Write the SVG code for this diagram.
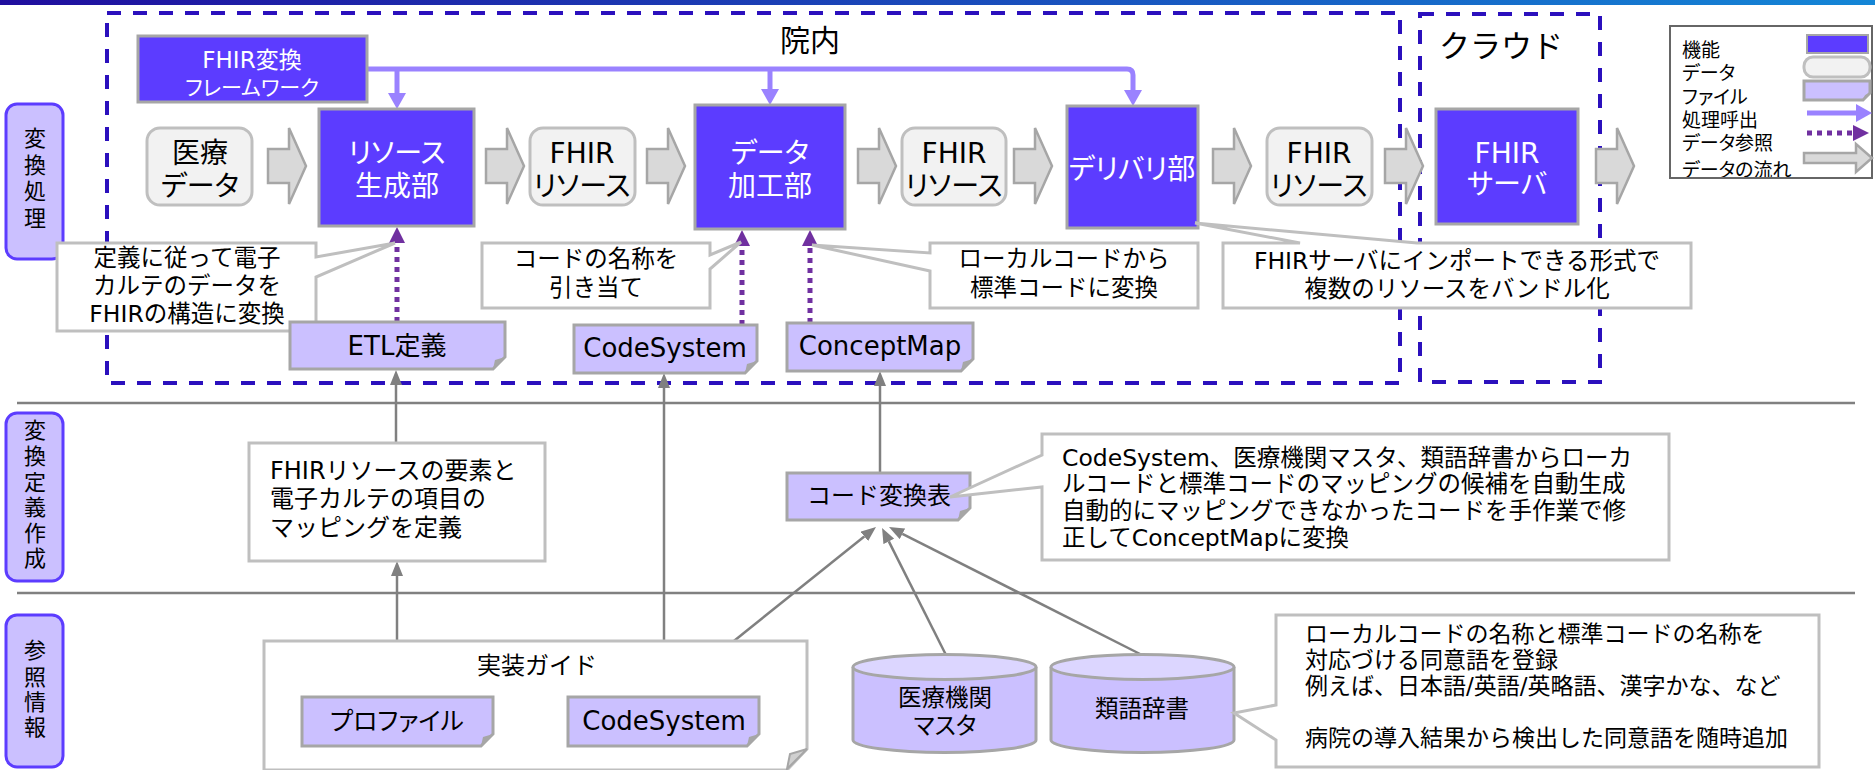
<svg xmlns="http://www.w3.org/2000/svg" width="1875" height="770" viewBox="0 0 1875 770">
<style>
.t{font-family:"DejaVu Sans","Noto Sans CJK JP",sans-serif;fill:#000}
.w{fill:#fff}
.p{font-feature-settings:"palt" 1}
.fn{fill:#5c3cff;stroke:#a6a6a6;stroke-width:3}
.dt{fill:#f2f2f2;stroke:#bfbfbf;stroke-width:3}
.fl{fill:#cbc0ff;stroke:#a6a6a6;stroke-width:3}
.fold{fill:#a6a6a6}
.co{fill:#fff;stroke:#bfbfbf;stroke-width:3}
.lbl{fill:#cbc0ff;stroke:#5c3cff;stroke-width:3}
.blk{fill:#d9d9d9;stroke:#a6a6a6;stroke-width:2.5}
.dash{fill:none;stroke:#2b10bd;stroke-width:4;stroke-dasharray:14 12}
.hl{stroke:#808080;stroke-width:2.5;fill:none}
.g{stroke:#808080;stroke-width:2.5;fill:none;marker-end:url(#mg)}
.call{stroke:#9a82ff;stroke-width:5;fill:none}
.ref{stroke:#7030a0;stroke-width:5;stroke-dasharray:5 5;fill:none;marker-end:url(#md)}
.cyl{fill:#cbc0ff;stroke:#a6a6a6;stroke-width:3}
.cyltop{fill:#dcd6ff;stroke:#a6a6a6;stroke-width:3}
</style>
<defs>
<linearGradient id="topbar" x1="0" x2="1" y1="0" y2="0"><stop offset="0" stop-color="#200e9e"/><stop offset="1" stop-color="#1486d6"/></linearGradient>
<marker id="mg" markerUnits="userSpaceOnUse" markerWidth="15" markerHeight="12" refX="0" refY="6" orient="auto"><path d="M0,0 L15,6 L0,12 Z" fill="#808080"/></marker>
<marker id="mc" markerUnits="userSpaceOnUse" markerWidth="16" markerHeight="18" refX="0" refY="9" orient="auto"><path d="M0,0 L16,9 L0,18 Z" fill="#9a82ff"/></marker>
<marker id="md" markerUnits="userSpaceOnUse" markerWidth="16" markerHeight="16" refX="0" refY="8" orient="auto"><path d="M0,0 L16,8 L0,16 Z" fill="#7030a0"/></marker>
<path id="ba" class="blk" d="M0,-17 H21 V-38 L38,0 L21,38 V17 H0 Z"/>
<clipPath id="lgclip"><rect x="1670" y="26" width="202" height="151"/></clipPath>
</defs>

<rect x="0" y="0" width="1875" height="5" fill="url(#topbar)"/>

<!-- lanes -->
<g id="lane-lines">
<line class="hl" x1="17" y1="403" x2="1855" y2="403"/>
<line class="hl" x1="17" y1="593" x2="1855" y2="593"/>
</g>
<g id="lane-henkan-shori">
<rect class="lbl" x="6" y="104" width="57" height="155" rx="11"/>
<text class="t" font-size="22" text-anchor="middle"><tspan x="35" y="146">変</tspan><tspan x="35" y="173">換</tspan><tspan x="35" y="199">処</tspan><tspan x="35" y="226">理</tspan></text>
</g>
<g id="lane-henkan-teigi">
<rect class="lbl" x="6" y="413" width="57" height="168" rx="11"/>
<text class="t" font-size="22" text-anchor="middle"><tspan x="35" y="438">変</tspan><tspan x="35" y="464">換</tspan><tspan x="35" y="490">定</tspan><tspan x="35" y="515">義</tspan><tspan x="35" y="541">作</tspan><tspan x="35" y="566">成</tspan></text>
</g>
<g id="lane-sansho">
<rect class="lbl" x="6" y="615" width="57" height="152" rx="11"/>
<text class="t" font-size="22" text-anchor="middle"><tspan x="35" y="658">参</tspan><tspan x="35" y="685">照</tspan><tspan x="35" y="710">情</tspan><tspan x="35" y="735">報</tspan></text>
</g>

<!-- zones -->
<g id="zone-innai">
<rect class="dash" x="107" y="13" width="1293" height="370"/>
<text class="t" font-size="30" text-anchor="middle" x="810" y="51">院内</text>
</g>
<g id="zone-cloud">
<rect class="dash" x="1420" y="14" width="180" height="368"/>
<text class="t" font-size="31" text-anchor="middle" x="1501" y="57">クラウド</text>
</g>

<!-- connectors -->
<g id="connectors">
<use href="#ba" x="268" y="166"/>
<use href="#ba" x="486" y="166"/>
<use href="#ba" x="647" y="166"/>
<use href="#ba" x="858" y="166"/>
<use href="#ba" x="1014" y="166"/>
<use href="#ba" x="1213" y="166"/>
<use href="#ba" x="1385" y="166"/>
<use href="#ba" x="1596" y="166"/>
<path class="call" d="M367,69 H1127 Q1133,69 1133,75 V90" marker-end="url(#mc)"/>
<path class="call" d="M397,69 V93" marker-end="url(#mc)"/>
<path class="call" d="M770,69 V89" marker-end="url(#mc)"/>
<path class="ref" d="M397,322 V243"/>
<path class="ref" d="M742,325 V246"/>
<path class="ref" d="M810,323 V246"/>
<path class="g" d="M396,443 V385"/>
<path class="g" d="M397,697 V576"/>
<path class="g" d="M664,697 V388"/>
<path class="g" d="M880,473 V386"/>
<path class="g" d="M664,697 L864.3,536.4"/>
<path class="g" d="M946,655 L888.8,541.4"/>
<path class="g" d="M1142,655 L902.4,533.8"/>
</g>

<!-- nodes -->
<g id="fhir-framework">
<rect class="fn" x="138" y="36" width="229" height="66"/>
<text class="t w p" font-size="23" text-anchor="middle" x="252" y="68">FHIR変換</text>
<text class="t w p" font-size="21" text-anchor="middle" x="252" y="95">フレームワーク</text>
</g>
<g id="iryo-data">
<rect class="dt" x="147" y="128" width="105" height="77" rx="13"/>
<text class="t p" font-size="28" text-anchor="middle"><tspan x="200" y="163">医療</tspan><tspan x="200" y="196">データ</tspan></text>
</g>
<g id="resource-gen">
<rect class="fn" x="319" y="109" width="155" height="117"/>
<text class="t w p" font-size="28" text-anchor="middle"><tspan x="397" y="163">リソース</tspan><tspan x="397" y="196">生成部</tspan></text>
</g>
<g id="fhir-res-1">
<rect class="dt" x="530" y="128" width="105" height="77" rx="13"/>
<text class="t p" font-size="28" text-anchor="middle"><tspan x="582" y="163">FHIR</tspan><tspan x="582" y="196">リソース</tspan></text>
</g>
<g id="data-kako">
<rect class="fn" x="695" y="105" width="150" height="124"/>
<text class="t w p" font-size="28" text-anchor="middle"><tspan x="770" y="163">データ</tspan><tspan x="770" y="196">加工部</tspan></text>
</g>
<g id="fhir-res-2">
<rect class="dt" x="902" y="128" width="104" height="77" rx="13"/>
<text class="t p" font-size="28" text-anchor="middle"><tspan x="954" y="163">FHIR</tspan><tspan x="954" y="196">リソース</tspan></text>
</g>
<g id="delivery">
<rect class="fn" x="1067" y="106" width="131" height="122"/>
<text class="t w p" font-size="28" text-anchor="middle" x="1132" y="179">デリバリ部</text>
</g>
<g id="fhir-res-3">
<rect class="dt" x="1267" y="128" width="105" height="77" rx="13"/>
<text class="t p" font-size="28" text-anchor="middle"><tspan x="1319" y="163">FHIR</tspan><tspan x="1319" y="196">リソース</tspan></text>
</g>
<g id="fhir-server">
<rect class="fn" x="1436" y="109" width="142" height="115"/>
<text class="t w p" font-size="28" text-anchor="middle"><tspan x="1507" y="163">FHIR</tspan><tspan x="1507" y="194">サーバ</tspan></text>
</g>

<g id="note-etl">
<path class="co" d="M57,243 H316 V257 L395,243 L316,277 V331 H57 Z"/>
<text class="t" font-size="23.5" text-anchor="middle"><tspan x="187" y="266">定義に従って電子</tspan><tspan x="187" y="294">カルテのデータを</tspan><tspan x="187" y="322">FHIRの構造に変換</tspan></text>
</g>
<g id="note-code-name">
<path class="co" d="M482,243 H710 V255 L741,242 L710,269 V308 H482 Z"/>
<text class="t" font-size="23.5" text-anchor="middle"><tspan x="596" y="267">コードの名称を</tspan><tspan x="596" y="296">引き当て</tspan></text>
</g>
<g id="note-local-code">
<path class="co" d="M930,243 H1198 V308 H930 V271 L812,245 L930,253 Z"/>
<text class="t" font-size="23.5" text-anchor="middle"><tspan x="1064" y="267">ローカルコードから</tspan><tspan x="1064" y="296">標準コードに変換</tspan></text>
</g>
<g id="note-bundle">
<path class="co" d="M1223,243 H1300 L1195,223 L1417,243 H1691 V308 H1223 Z"/>
<text class="t" font-size="23.5" text-anchor="middle"><tspan x="1457" y="269">FHIRサーバにインポートできる形式で</tspan><tspan x="1457" y="297">複数のリソースをバンドル化</tspan></text>
</g>

<g id="file-etl">
<path class="fl" d="M290,322 H505 V357 L493,369 H290 Z"/>
<path class="fold" d="M505,357 L495,360 L493,369 Z"/>
<text class="t" font-size="26" text-anchor="middle" x="397" y="355">ETL定義</text>
</g>
<g id="file-codesystem-top">
<path class="fl" d="M574,325 H757 V361 L745,373 H574 Z"/>
<path class="fold" d="M757,361 L747,364 L745,373 Z"/>
<text class="t" font-size="26" text-anchor="middle" x="665" y="357">CodeSystem</text>
</g>
<g id="file-conceptmap">
<path class="fl" d="M787,323 H973 V359 L961,371 H787 Z"/>
<path class="fold" d="M973,359 L963,362 L961,371 Z"/>
<text class="t" font-size="26" text-anchor="middle" x="880" y="355">ConceptMap</text>
</g>

<g id="note-mapping">
<rect class="co" x="249" y="443" width="296" height="118"/>
<text class="t" font-size="24"><tspan x="270" y="479">FHIRリソースの要素と</tspan><tspan x="270" y="507">電子カルテの項目の</tspan><tspan x="270" y="536">マッピングを定義</tspan></text>
</g>
<g id="file-code-table">
<path class="fl" d="M787,473 H970 V508 L958,520 H787 Z"/>
<path class="fold" d="M970,508 L960,511 L958,520 Z"/>
<text class="t" font-size="24" text-anchor="middle" x="879" y="504">コード変換表</text>
</g>
<g id="note-code-table">
<path class="co" d="M1042,434 H1669 V560 H1042 V487 L950,497 L1042,455 Z"/>
<text class="t" font-size="23.5"><tspan x="1062" y="466">CodeSystem、医療機関マスタ、類語辞書からローカ</tspan><tspan x="1062" y="492">ルコードと標準コードのマッピングの候補を自動生成</tspan><tspan x="1062" y="519">自動的にマッピングできなかったコードを手作業で修</tspan><tspan x="1062" y="546">正してConceptMapに変換</tspan></text>
</g>

<g id="impl-guide">
<path class="co" d="M264,641 H807 V749 L787,770 H264 Z"/>
<path d="M807,749 L790,754 L787,769 Z" fill="#d0d0d0" stroke="#a6a6a6" stroke-width="2"/>
<text class="t" font-size="24" text-anchor="middle" x="537" y="674">実装ガイド</text>
</g>
<g id="file-profile">
<path class="fl" d="M302,697 H493 V734 L481,746 H302 Z"/>
<path class="fold" d="M493,734 L483,737 L481,746 Z"/>
<text class="t p" font-size="25" text-anchor="middle" x="397" y="730">プロファイル</text>
</g>
<g id="file-codesystem-bottom">
<path class="fl" d="M568,697 H759 V734 L747,746 H568 Z"/>
<path class="fold" d="M759,734 L749,737 L747,746 Z"/>
<text class="t" font-size="26" text-anchor="middle" x="664" y="730">CodeSystem</text>
</g>
<g id="db-master">
<path class="cyl" d="M853,667 V740 A91.5,12.5 0 0 0 1036,740 V667"/>
<ellipse class="cyltop" cx="944.5" cy="667" rx="91.5" ry="12.5"/>
<text class="t" font-size="23.5" text-anchor="middle"><tspan x="945" y="706">医療機関</tspan><tspan class="p" x="945" y="734">マスタ</tspan></text>
</g>
<g id="db-synonym">
<path class="cyl" d="M1051,667 V740 A91.5,12.5 0 0 0 1234,740 V667"/>
<ellipse class="cyltop" cx="1142.5" cy="667" rx="91.5" ry="12.5"/>
<text class="t" font-size="23.5" text-anchor="middle" x="1142" y="717">類語辞書</text>
</g>
<g id="note-synonym">
<path class="co" d="M1276,615 H1819 V767 H1276 V740 L1234,713 L1276,705 Z"/>
<text class="t" font-size="23"><tspan x="1305" y="642">ローカルコードの名称と標準コードの名称を</tspan><tspan x="1305" y="668">対応づける同意語を登録</tspan><tspan x="1305" y="694">例えば、日本語/英語/英略語、漢字かな、など</tspan><tspan x="1305" y="746">病院の導入結果から検出した同意語を随時追加</tspan></text>
</g>

<g id="legend">
<rect x="1670" y="26" width="202" height="152" fill="#fff" stroke="#666" stroke-width="2"/>
<g clip-path="url(#lgclip)">
<text class="t p" font-size="19"><tspan x="1682" y="57">機能</tspan><tspan x="1682" y="80">データ</tspan><tspan x="1682" y="104">ファイル</tspan><tspan x="1682" y="127">処理呼出</tspan><tspan x="1682" y="150">データ参照</tspan><tspan x="1682" y="177">データの流れ</tspan></text>
</g>
<rect class="fn" x="1807" y="35" width="61" height="18" style="stroke-width:2"/>
<rect class="dt" x="1804" y="57" width="66" height="20" rx="9"/>
<path class="fl" d="M1804,81 H1870 V93 L1863,100 H1804 Z"/>
<path class="fold" d="M1870,93 L1865,95 L1863,100 Z"/>
<path class="call" d="M1807,113 H1856" marker-end="url(#mc)"/>
<path class="ref" d="M1807,133 H1853"/>
<path class="blk" d="M1804,153 H1856 V144 L1872,158 L1856,172 V163 H1804 Z"/>
</g>
</svg>
